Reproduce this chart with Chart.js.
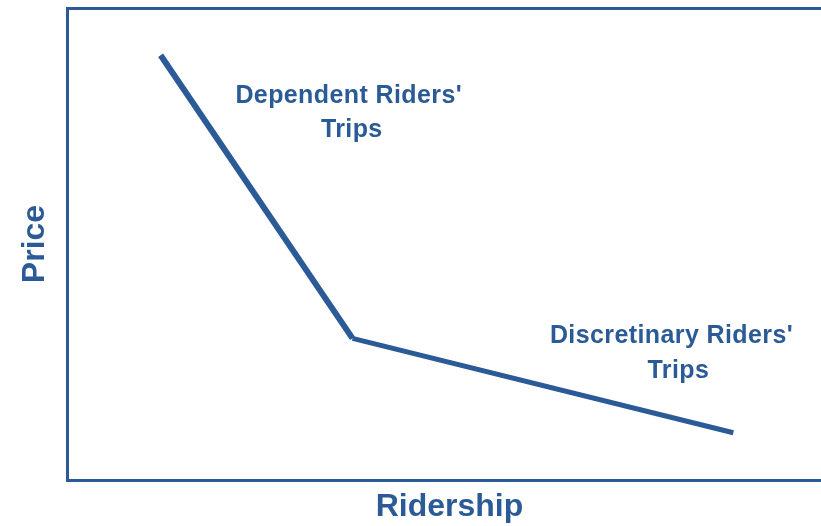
<!DOCTYPE html>
<html>
<head>
<meta charset="utf-8">
<script src="https://cdn.jsdelivr.net/npm/chart.js@4/dist/chart.umd.min.js"></script>
<style>
  html, body { margin: 0; padding: 0; background: #fff; overflow: hidden; }
  /* frame runs past the right edge of the picture, so the canvas is a bit wider than the window */
  #wrap { width: 831px; height: 526px; }
</style>
</head>
<body>
<div id="wrap"><canvas id="demandChart"></canvas></div>
<script>
  // demand curve: ridership vs price (arbitrary units)
  var ridership = [12.15, 37.3, 87.2];
  var price = [90, 30, 10];

  // text labels placed in data units (one x/y per line, baseline)
  var noteLines = [["Dependent Riders'", 'Trips'], ["Discretinary Riders'", 'Trips']];
  var noteX = [[36.8, 37.2], [79.1, 80.0]];
  var noteY = [[79.9, 72.7], [29.0, 21.6]];

  var blue = '#2b5b97';
  var fontFamily = '"Liberation Sans", Arial, Helvetica, sans-serif';

  var points = ridership.map(function(x, i) { return {x: x, y: price[i]}; });

  var notesPlugin = {
    id: 'notes',
    afterDatasetsDraw: function(chart) {
      var ctx = chart.ctx;
      var xs = chart.scales.x, ys = chart.scales.y;
      ctx.save();
      ctx.fillStyle = blue;
      ctx.font = 'bold 25px ' + fontFamily;
      ctx.letterSpacing = '0.4px';
      ctx.textAlign = 'center';
      ctx.textBaseline = 'alphabetic';
      noteLines.forEach(function(lines, i) {
        lines.forEach(function(txt, j) {
          ctx.fillText(txt, xs.getPixelForValue(noteX[i][j]), ys.getPixelForValue(noteY[i][j]));
        });
      });
      ctx.restore();
    }
  };

  var ctx = document.getElementById('demandChart');
  var demandChart = new Chart(ctx, {
    type: 'line',
    data: {
      datasets: [{
        data: points,
        borderColor: blue,
        borderWidth: 6,
        pointRadius: 0,
        tension: 0,
        segment: {
          borderWidth: function(c) { return c.p0DataIndex === 0 ? 6 : 5; }
        }
      }]
    },
    options: {
      responsive: true,
      maintainAspectRatio: false,
      animation: false,
      layout: { padding: { left: 10, top: 8, right: 0, bottom: 0 } },
      plugins: {
        legend: { display: false },
        tooltip: { enabled: false }
      },
      scales: {
        x: {
          type: 'linear',
          min: 0,
          max: 100,
          grid: { display: false, drawTicks: false },
          ticks: { display: false },
          border: { display: true, color: blue, width: 3 },
          title: {
            display: true,
            text: 'Ridership',
            color: blue,
            font: { family: fontFamily, size: 32, weight: 'bold' },
            padding: { top: 7.6, bottom: 0 }
          }
        },
        x2: {
          type: 'linear',
          position: 'top',
          min: 0,
          max: 100,
          grid: { display: false, drawTicks: false },
          ticks: { display: false },
          border: { display: true, color: blue, width: 3 }
        },
        y: {
          min: 0,
          max: 100,
          grid: { display: false, drawTicks: false },
          ticks: { display: false },
          border: { display: true, color: blue, width: 3 },
          title: {
            display: true,
            text: 'Price',
            color: blue,
            font: { family: fontFamily, size: 32, weight: 'bold' },
            padding: { top: 6, bottom: 13.5 }
          }
        }
      }
    },
    plugins: [notesPlugin]
  });
</script>
</body>
</html>
